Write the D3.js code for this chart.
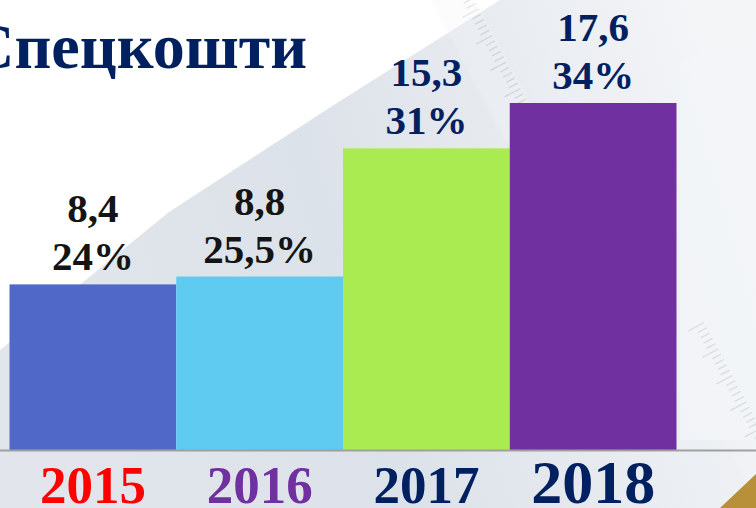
<!DOCTYPE html>
<html>
<head>
<meta charset="utf-8">
<script src="https://cdn.jsdelivr.net/npm/d3@7"></script>
<style>
  body { margin: 0; background: #fff; }
  svg { display: block; }
</style>
</head>
<body>
<script>
// chart data
var years = ["2015", "2016", "2017", "2018"];
var values = [8.4, 8.8, 15.3, 17.6];
var valueLabels = ["8,4", "8,8", "15,3", "17,6"];
var shareLabels = ["24%", "25,5%", "31%", "34%"];
var title = "Спецкошти";

var barColors = ["#5069c9", "#5fcbf1", "#aaeb51", "#7030a0"];
var labelColors = ["#141414", "#141414", "#002060", "#002060"];
var yearColors = ["#ff0000", "#7030a0", "#002060", "#002060"];

var w = 756;
var h = 508;
var serif = "Liberation Serif, Times New Roman, serif";

var svg = d3.select("body")
  .append("svg")
  .attr("width", w)
  .attr("height", h);

// background: white with a pale grey photo band
var defs = svg.append("defs");
var g1 = defs.append("linearGradient")
  .attr("id", "bg1")
  .attr("x1", "0").attr("y1", "0.6").attr("x2", "1").attr("y2", "0.4");
g1.append("stop").attr("offset", "0").attr("stop-color", "#e2e6ec");
g1.append("stop").attr("offset", "0.45").attr("stop-color", "#dce2e9");
g1.append("stop").attr("offset", "0.8").attr("stop-color", "#ebeef2");
g1.append("stop").attr("offset", "1").attr("stop-color", "#f3f5f7");

svg.append("rect")
  .attr("width", w).attr("height", h)
  .attr("fill", "#ffffff");
svg.append("path")
  .attr("d", "M500,0 L756,0 L756,508 L0,508 L0,350 L169,212 L337,103 Z")
  .attr("fill", "url(#bg1)");
svg.append("path")
  .attr("d", "M680,60 L756,40 L756,440 L680,440 Z")
  .attr("fill", "#f3f5f7")
  .attr("opacity", 0.8);

// faint rulers
function ruler(x, y, angle, len) {
  var r = svg.append("g")
    .attr("transform", "translate(" + x + "," + y + ") rotate(" + angle + ")")
    .attr("opacity", 0.25);
  r.append("rect")
    .attr("x", 0).attr("y", -18)
    .attr("width", len).attr("height", 40)
    .attr("fill", "#f4f6f8");
  r.selectAll("line")
    .data(d3.range(0, len, 6))
    .enter()
    .append("line")
    .attr("x1", function(d) { return d; })
    .attr("x2", function(d) { return d; })
    .attr("y1", -16)
    .attr("y2", function(d, i) { return i % 5 === 0 ? 2 : -6; })
    .attr("stroke", "#8a9098")
    .attr("stroke-width", 1.2);
}
ruler(450, -10, 62, 160);
ruler(690, 330, 62, 220);

// gold corner
svg.append("path")
  .attr("d", "M720,508 L756,474 L756,508 Z")
  .attr("fill", "#b8903a");

// scales
var x = d3.scaleBand()
  .domain(years)
  .range([9.5, 676.5])
  .padding(0);

var y = d3.scaleLinear()
  .domain([0, 17.6])
  .range([450, 103]);

// title
svg.append("text")
  .attr("x", 307)
  .attr("y", 68)
  .attr("text-anchor", "end")
  .attr("font-family", serif)
  .attr("font-weight", "bold")
  .attr("font-size", "64px")
  .attr("fill", "#002060")
  .text(title);

// bars
svg.selectAll("rect.bar")
  .data(values)
  .enter()
  .append("rect")
  .attr("class", "bar")
  .attr("x", function(d, i) { return x(years[i]); })
  .attr("y", function(d) { return y(d); })
  .attr("width", x.bandwidth())
  .attr("height", function(d) { return y(0) - y(d); })
  .attr("fill", function(d, i) { return barColors[i]; });

// baseline
svg.append("line")
  .attr("x1", 0).attr("x2", w)
  .attr("y1", y(0) + 0.5).attr("y2", y(0) + 0.5)
  .attr("stroke", "#a0a0a0")
  .attr("stroke-width", 2);

// value labels (two lines)
var labels = svg.selectAll("g.lbl")
  .data(values)
  .enter()
  .append("g")
  .attr("class", "lbl")
  .attr("font-family", serif)
  .attr("font-weight", "bold")
  .attr("font-size", "41px")
  .attr("text-anchor", "middle")
  .attr("fill", function(d, i) { return labelColors[i]; });

labels.append("text")
  .attr("x", function(d, i) { return x(years[i]) + x.bandwidth() / 2; })
  .attr("y", function(d) { return y(d) - 62; })
  .text(function(d, i) { return valueLabels[i]; });

labels.append("text")
  .attr("x", function(d, i) { return x(years[i]) + x.bandwidth() / 2; })
  .attr("y", function(d) { return y(d) - 14; })
  .text(function(d, i) { return shareLabels[i]; });

// year labels
svg.selectAll("text.year")
  .data(years)
  .enter()
  .append("text")
  .attr("class", "year")
  .attr("x", function(d) { return x(d) + x.bandwidth() / 2; })
  .attr("y", 503)
  .attr("text-anchor", "middle")
  .attr("font-family", serif)
  .attr("font-weight", "bold")
  .attr("font-size", function(d, i) { return i === 3 ? "62px" : "53px"; })
  .attr("fill", function(d, i) { return yearColors[i]; })
  .text(function(d) { return d; });
</script>
</body>
</html>
